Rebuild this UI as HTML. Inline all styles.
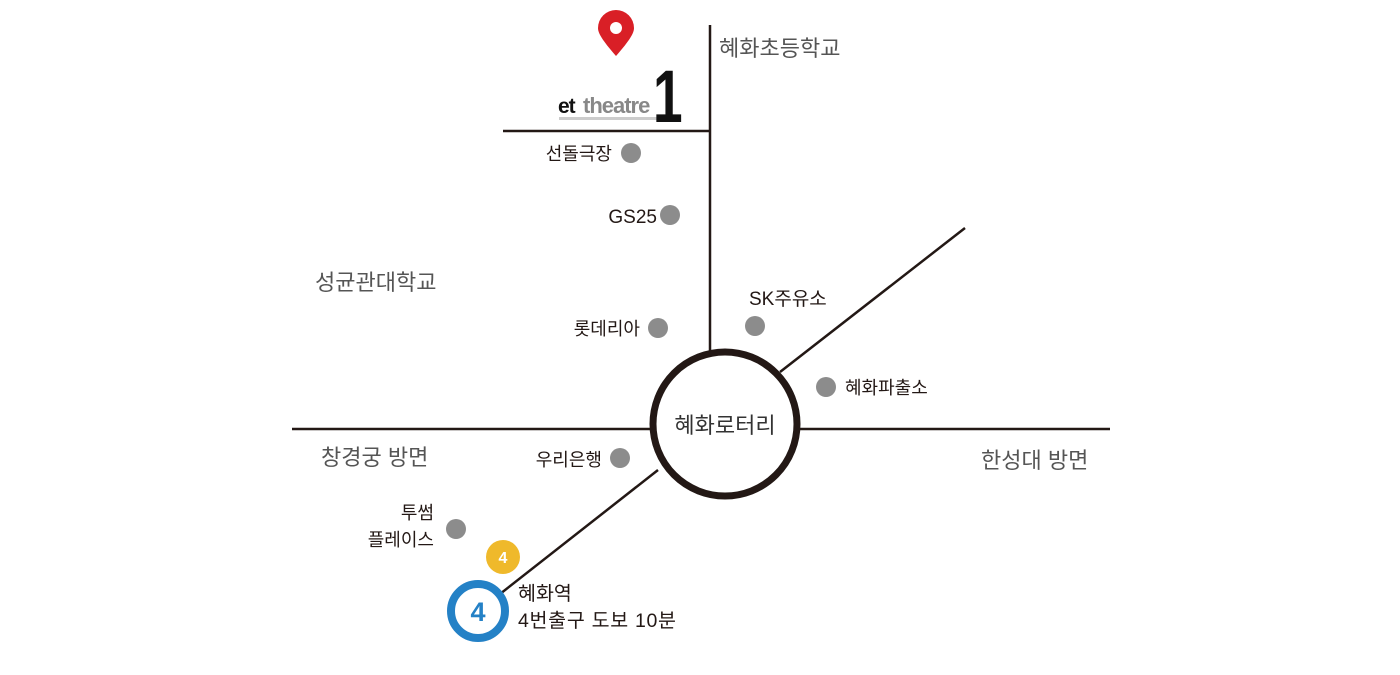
<!DOCTYPE html>
<html><head><meta charset="utf-8"><style>
html,body{margin:0;padding:0;background:#fff;}
svg text{font-family:"Liberation Sans","Noto Sans CJK KR",sans-serif;}
</style></head><body>
<svg width="1400" height="670" viewBox="0 0 1400 670" xmlns="http://www.w3.org/2000/svg">
<g stroke="#231815" fill="none">
<line x1="710" y1="25" x2="710" y2="352" stroke-width="2.5"/>
<line x1="503" y1="131" x2="710" y2="131" stroke-width="2.5"/>
<line x1="292" y1="429" x2="1110" y2="429" stroke-width="2.5"/>
<line x1="780" y1="372" x2="965" y2="228" stroke-width="2.5"/>
<line x1="658" y1="470" x2="500" y2="594" stroke-width="2.5"/>
<circle cx="725" cy="424" r="72" stroke-width="7" fill="#fff"/>
</g>
<circle cx="478" cy="611" r="27" fill="#fff" stroke="#2481c6" stroke-width="8"/>
<text x="478" y="621" font-size="27" fill="#2481c6" font-weight="bold" text-anchor="middle">4</text>
<circle cx="503" cy="557" r="17" fill="#efb92b"/>
<text x="503" y="563" font-size="16" fill="#fff" font-weight="bold" text-anchor="middle">4</text>
<g fill="#8c8c8c">
<circle cx="631" cy="153" r="10"/><circle cx="670" cy="215" r="10"/><circle cx="658" cy="328" r="10"/>
<circle cx="755" cy="326" r="10"/><circle cx="826" cy="387" r="10"/><circle cx="620" cy="458" r="10"/>
<circle cx="456" cy="529" r="10"/>
</g>
<path d="M616 56 C602 40 598 33 598 28 A18 18 0 0 1 634 28 C634 33 630 40 616 56Z" fill="#d91f26"/>
<circle cx="616" cy="28" r="6" fill="#fff"/>
<text x="558" y="113" font-size="21" font-weight="bold" fill="#111" letter-spacing="-1">et</text>
<text x="583" y="113" font-size="22" font-weight="bold" fill="#888" letter-spacing="-1">theatre</text>
<rect x="559" y="117" width="98" height="3" fill="#ccc"/>
<text transform="translate(653,122) scale(0.72,1)" font-size="74" font-weight="bold" fill="#111">1</text>
<g font-size="22" fill="#555">
<text x="719" y="56">혜화초등학교</text>
<text x="315" y="290">성균관대학교</text>
<text x="321" y="465">창경궁 방면</text>
<text x="981" y="468">한성대 방면</text>
<text x="725" y="433" text-anchor="middle" font-size="22" fill="#333">혜화로터리</text>
</g>
<g font-size="18" fill="#231815">
<text x="612" y="160" text-anchor="end">선돌극장</text>
<text x="657" y="223" text-anchor="end" font-size="19">GS25</text>
<text x="640" y="335" text-anchor="end">롯데리아</text>
<text x="749" y="305" font-size="19">SK주유소</text>
<text x="845" y="394">혜화파출소</text>
<text x="602" y="466" text-anchor="end">우리은행</text>
<text x="434" y="519" text-anchor="end">투썸</text>
<text x="434" y="546" text-anchor="end">플레이스</text>
<text x="518" y="600" font-size="19.5">혜화역</text>
<text x="518" y="627" font-size="19.5" textLength="158">4번출구 도보 10분</text>
</g>
</svg>
</body></html>
